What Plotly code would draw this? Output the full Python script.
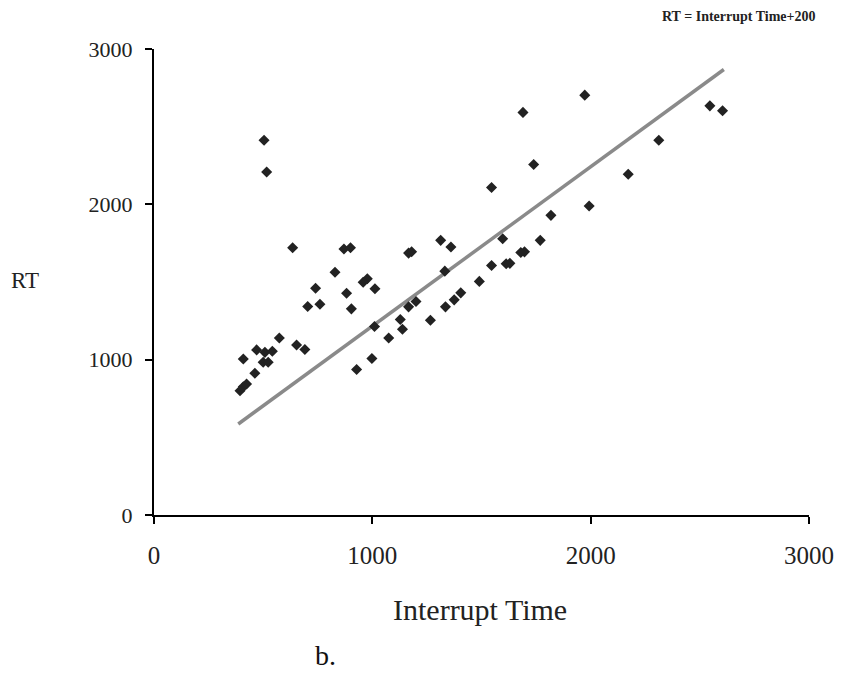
import plotly.graph_objects as go

# Scatter data
interrupt_time = [504, 516, 635, 870, 900, 829, 977, 958, 1012, 740, 882, 704, 760, 904,
                  574, 653, 691, 409, 470, 508, 542, 500, 523, 462, 409, 424, 394, 928,
                  998, 1075, 1128, 1138, 1010, 1166, 1180, 1313, 1360, 1166, 1200, 1266,
                  1335, 1375, 1405, 1332, 1490, 1546, 1613, 1630, 1597, 1697, 1680, 1769,
                  1818, 1993, 1546, 1690, 1973, 1739, 2172, 2312, 2546, 2604]
rt = [2413, 2208, 1721, 1712, 1720, 1563, 1521, 1499, 1456, 1460, 1428, 1342, 1357, 1327,
      1140, 1095, 1066, 1004, 1063, 1047, 1054, 983, 983, 912, 826, 843, 800, 937,
      1008, 1140, 1258, 1196, 1213, 1686, 1695, 1768, 1725, 1340, 1375, 1254,
      1340, 1385, 1430, 1570, 1504, 1606, 1617, 1620, 1779, 1694, 1690, 1768,
      1929, 1989, 2108, 2592, 2703, 2257, 2194, 2413, 2634, 2602]

# Trend line endpoints (RT = Interrupt Time + 200)
trend_x = [386, 2610]
trend_y = [586, 2868]

tick_vals = [0, 1000, 2000, 3000]
tick_text = ["0", "1000", "2000", "3000"]

FONT = "Liberation Serif"

fig = go.Figure()
fig.add_trace(go.Scatter(x=trend_x, y=trend_y, mode="lines",
                         line=dict(color="#8a8a8a", width=3.5), hoverinfo="skip"))
fig.add_trace(go.Scatter(x=interrupt_time, y=rt, mode="markers",
                         marker=dict(symbol="diamond", size=8.5, color="#222222",
                                     line=dict(width=0))))

axis_common = dict(range=[0, 3000], tickvals=tick_vals, ticktext=tick_text,
                   showline=True, linecolor="black", linewidth=2,
                   ticks="outside", ticklen=7, tickwidth=2, tickcolor="black",
                   showgrid=False, zeroline=False, automargin=False)

# plot area: x 154..809, y 49..515 (pixels)
def px_x(p):
    return (p - 154) / 655

def px_y(p):
    return (515 - p) / 466

fig.update_layout(
    width=843, height=683,
    margin=dict(l=154, r=34, t=49, b=168),
    plot_bgcolor="white", paper_bgcolor="white",
    showlegend=False,
    xaxis=dict(**axis_common, ticklabelstandoff=10,
               tickfont=dict(family=FONT, size=25, color="#222222")),
    yaxis=dict(**axis_common, ticklabelstandoff=8,
               tickfont=dict(family=FONT, size=22, color="#222222")),
    annotations=[
        dict(text="RT", x=px_x(25), y=px_y(280), xref="paper", yref="paper",
             xanchor="center", yanchor="middle",
             showarrow=False, font=dict(family=FONT, size=23, color="#222222")),
        dict(text="Interrupt Time", x=px_x(480), y=px_y(609), xref="paper", yref="paper",
             xanchor="center", yanchor="middle",
             showarrow=False, font=dict(family=FONT, size=30, color="#222222")),
        dict(text="b.", x=px_x(325), y=px_y(655), xref="paper", yref="paper",
             xanchor="center", yanchor="middle",
             showarrow=False, font=dict(family=FONT, size=28, color="#111111")),
        dict(text="<b>RT = Interrupt Time+200</b>", x=px_x(818), y=px_y(17),
             xref="paper", yref="paper", xanchor="right", yanchor="middle",
             showarrow=False, font=dict(family=FONT, size=14, color="#222222")),
    ],
)

fig.write_html("out.html")
